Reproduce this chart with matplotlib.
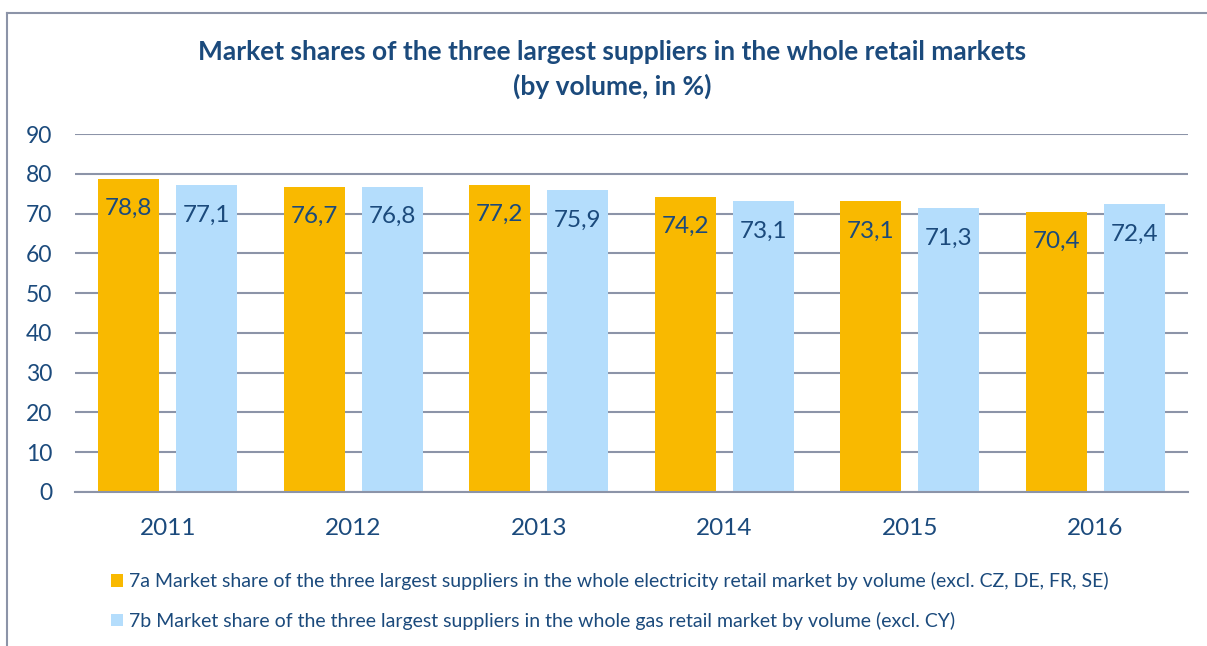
import matplotlib
matplotlib.use("Agg")
import matplotlib.pyplot as plt
from matplotlib.lines import Line2D
import numpy as np

years = ["2011", "2012", "2013", "2014", "2015", "2016"]
electricity = [78.8, 76.7, 77.2, 74.2, 73.1, 70.4]
gas = [77.1, 76.8, 75.9, 73.1, 71.3, 72.4]
label_elec = "7a Market share of the three largest suppliers in the whole electricity retail market by volume (excl. CZ, DE, FR, SE)"
label_gas = "7b Market share of the three largest suppliers in the whole gas retail market by volume (excl. CY)"
title1 = "Market shares of the three largest suppliers in the whole retail markets"
title2 = "(by volume, in %)"
yticks = [0, 10, 20, 30, 40, 50, 60, 70, 80, 90]

plt.rcParams['font.family'] = ['Lato', 'DejaVu Sans']

TXT = "#1B4A7C"
ORANGE = "#F9B900"
BLUE = "#B4DDFC"
GRID = "#8C94A8"

fig = plt.figure(figsize=(12.07, 6.46), dpi=100)
ax = fig.add_axes([75/1207, 154/646, (1188-75)/1207, (492-134)/646])

x = np.arange(len(years))
w = 0.33
off = 0.21
b1 = ax.bar(x - off, electricity, w, color=ORANGE, zorder=2, label=label_elec)
b2 = ax.bar(x + off, gas, w, color=BLUE, zorder=2, label=label_gas)

for bars, vals in ((b1, electricity), (b2, gas)):
    for rect, v in zip(bars, vals):
        ax.annotate(f"{v:.1f}".replace(".", ","),
                    (rect.get_x() + rect.get_width()/2, v),
                    xytext=(0, -21.5), textcoords="offset points",
                    ha="center", va="center", fontsize=17.5, color=TXT, zorder=3)

ax.set_xlim(-0.5, len(years) - 0.5)
ax.set_ylim(0, 90)
ax.set_yticks(yticks)
ax.set_yticklabels([str(t) for t in yticks])
ax.set_xticks(x)
ax.set_xticklabels(years)
ax.yaxis.grid(True, color=GRID, linewidth=1.5, zorder=1)
ax.set_axisbelow(True)
for s in ("left", "right", "top"):
    ax.spines[s].set_visible(False)
ax.spines["bottom"].set_color(GRID)
ax.spines["bottom"].set_linewidth(1.5)
ax.tick_params(axis="y", length=0, pad=16.5, labelsize=16.5, labelcolor=TXT)
ax.tick_params(axis="x", length=0, pad=18.5, labelsize=17.5, labelcolor=TXT)

fig.text(612/1207, 1 - 52/646, title1, ha="center", va="center",
         fontsize=19, fontweight="bold", color=TXT)
fig.text(612/1207, 1 - 86/646, title2, ha="center", va="center",
         fontsize=19, fontweight="bold", color=TXT)

leg = fig.legend(handles=[b1, b2], loc="upper left",
                 bbox_to_anchor=(111/1207, 1 - 572/646),
                 frameon=False, fontsize=14, labelcolor=TXT,
                 handlelength=0.62, handleheight=0.62, handletextpad=0.3,
                 labelspacing=1.12, borderaxespad=0, borderpad=0)

# outer frame
fig.add_artist(Line2D([7/1207, 7/1207], [0, 1 - 13/646], transform=fig.transFigure,
                      color=GRID, linewidth=1.5))
fig.add_artist(Line2D([7/1207, 1.0], [1 - 13/646, 1 - 13/646], transform=fig.transFigure,
                      color=GRID, linewidth=1.5))

fig.savefig("out.png", dpi=100)
